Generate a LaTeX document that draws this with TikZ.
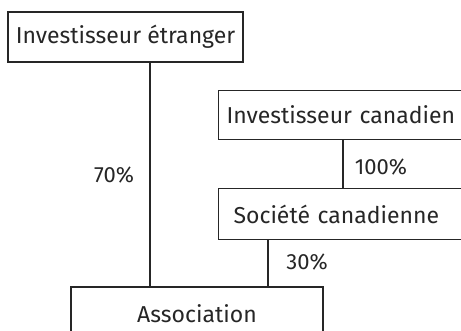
\documentclass[tikz,border=0pt]{standalone}
\usepackage{fontspec}
\setmainfont{Fira Sans}
\begin{document}
\begin{tikzpicture}[x=1pt,y=-1pt,
  box/.style={draw=black!85, line width=1.1pt, inner sep=0pt, font=\fontsize{23}{25}\selectfont, text=black!85},
  pct/.style={font=\fontsize{22}{24}\selectfont, text=black!85, inner sep=0pt},
  link/.style={draw=black!85, line width=1.1pt}]
\useasboundingbox (0,0) rectangle (461,331);
\clip (0,0) rectangle (461,331);
\node[box, minimum width=235pt, minimum height=50pt] (etr) at (125.5,37) {Investisseur étranger};
\node[box, anchor=north west, minimum width=252pt, minimum height=49pt, text width=236pt, align=left, inner xsep=8pt] (can) at (218,90) {Investisseur canadien};
\node[box, anchor=north west, minimum width=252pt, minimum height=51pt, text width=222pt, align=left, inner xsep=15pt] (soc) at (218,188) {Société canadienne};
\node[box, minimum width=252pt, minimum height=53pt] (asso) at (197,313.5) {Association};
\draw[link] ([xshift=24.5pt]etr.south) -- ([xshift=24.5pt]etr.south |- asso.north);
\draw[link] ([xshift=125pt]can.south west) -- ([xshift=125pt]soc.north west);
\draw[link] ([xshift=50pt]soc.south west) -- ([xshift=50pt]soc.south west |- asso.north);
\node[pct] (p70) at (114,175) {70\%};
\node[pct] (p100) at (381,167) {100\%};
\node[pct] (p30) at (307,262) {30\%};
\end{tikzpicture}
\end{document}
